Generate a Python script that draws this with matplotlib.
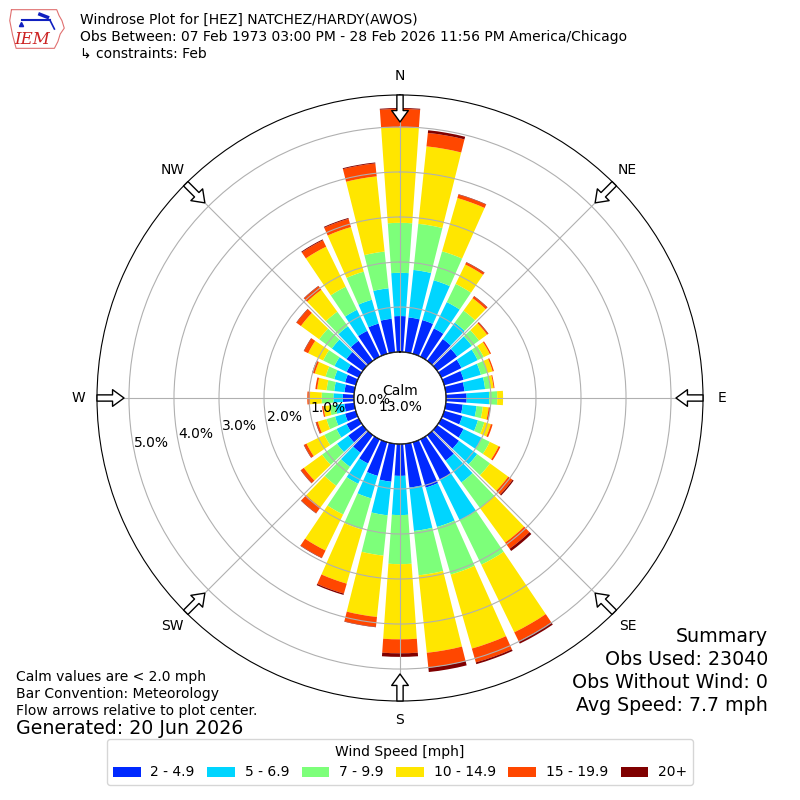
import numpy as np
import matplotlib
matplotlib.use("Agg")
import matplotlib.pyplot as plt

plt.rcParams['font.family'] = ['DejaVu Sans']

# direction bins (deg) and percent frequency per speed band
directions = np.arange(0, 360, 10)
b_2_5 = [0.80, 0.78, 0.78, 0.70, 0.60, 0.55, 0.50, 0.45, 0.42, 0.46, 0.38, 0.42,
         0.55, 0.60, 0.70, 1.00, 1.05, 0.98, 0.71, 0.85, 0.78, 0.60, 0.48, 0.40,
         0.30, 0.25, 0.22, 0.25, 0.22, 0.25, 0.30, 0.45, 0.55, 0.64, 0.70, 0.75]
b_5_7 = [0.96, 1.06, 0.92, 0.65, 0.45, 0.40, 0.40, 0.40, 0.46, 0.50, 0.31, 0.36,
         0.45, 0.50, 0.60, 1.00, 0.91, 0.97, 0.87, 0.75, 0.52, 0.50, 0.39, 0.31,
         0.25, 0.23, 0.20, 0.21, 0.23, 0.25, 0.30, 0.40, 0.40, 0.52, 0.55, 0.68]
b_7_10 = [1.11, 1.03, 0.67, 0.45, 0.33, 0.20, 0.15, 0.15, 0.12, 0.18, 0.14, 0.15,
          0.20, 0.35, 0.70, 1.10, 1.10, 0.99, 1.09, 0.90, 0.72, 0.76, 0.52, 0.41,
          0.30, 0.20, 0.13, 0.26, 0.17, 0.20, 0.28, 0.35, 0.40, 0.57, 0.65, 0.82]
b_10_15 = [2.12, 1.73, 1.23, 0.48, 0.34, 0.22, 0.15, 0.12, 0.07, 0.13, 0.13, 0.15,
           0.22, 0.50, 0.95, 1.67, 1.71, 1.73, 1.67, 1.37, 1.25, 0.89, 0.59, 0.50,
           0.44, 0.20, 0.14, 0.26, 0.21, 0.25, 0.37, 0.50, 0.60, 0.99, 1.03, 1.68]
b_15_20 = [0.41, 0.30, 0.08, 0.05, 0.05, 0.03, 0.03, 0.03, 0.02, 0.00, 0.03, 0.04,
           0.04, 0.12, 0.17, 0.22, 0.32, 0.33, 0.31, 0.22, 0.23, 0.18, 0.16, 0.08,
           0.06, 0.04, 0.03, 0.06, 0.04, 0.05, 0.10, 0.12, 0.10, 0.16, 0.19, 0.29]
b_20 = [0.02, 0.06, 0.01, 0.01, 0.01, 0.01, 0.00, 0.00, 0.00, 0.00, 0.01, 0.00,
        0.00, 0.03, 0.06, 0.06, 0.04, 0.10, 0.08, 0.01, 0.03, 0.01, 0.01, 0.01,
        0.01, 0.01, 0.00, 0.00, 0.00, 0.01, 0.01, 0.01, 0.01, 0.02, 0.02, 0.02]
bands = [b_2_5, b_5_7, b_7_10, b_10_15, b_15_20, b_20]
band_labels = ['2 - 4.9', '5 - 6.9', '7 - 9.9', '10 - 14.9', '15 - 19.9', '20+']
calm_pct = 13.0
rmax = 5.71

colors = [plt.cm.jet(i / 6.0) for i in range(1, 7)]

fig = plt.figure(figsize=(8, 8), dpi=100)
ax = fig.add_axes([97 / 800., 99 / 800., 606 / 800., 606 / 800.], projection='polar')
ax.set_theta_zero_location('N')
ax.set_theta_direction(-1)
ax.set_rorigin(-1.02)
ax.set_ylim(0, rmax)

theta = np.deg2rad(directions)
width = np.deg2rad(8)
bottom = np.zeros(len(directions))
handles = []
for vals, col, lab in zip(bands, colors, band_labels):
    vals = np.array(vals)
    h = ax.bar(theta, vals, width=width, bottom=bottom, color=col, linewidth=0,
               label=lab, zorder=2)
    handles.append(h)
    bottom = bottom + vals

# calm circle
tt = np.linspace(0, 2 * np.pi, 300)
ax.plot(tt, np.zeros_like(tt), color='k', lw=1, zorder=3)
ax.text(0.5, 0.498, 'Calm\n%.1f%%' % calm_pct, transform=ax.transAxes,
        ha='center', va='center', fontsize=10, zorder=4)

ax.set_axisbelow(False)
ax.grid(True, color='#b0b0b0', lw=0.8)
ax.set_rticks([0, 1, 2, 3, 4, 5])
ax.set_yticklabels(['0.0%', '1.0%', '2.0%', '3.0%', '4.0%', '5.0%'], fontsize=10)
ax.set_rlabel_position(259)
ax.set_thetagrids(np.arange(0, 360, 45), ['N', 'NE', 'E', 'SE', 'S', 'SW', 'W', 'NW'],
                  fontsize=10)
ax.tick_params(axis='x', pad=3)

# flow arrows pointing to center
for a in np.arange(0, 360, 45):
    ax.annotate('', xy=(np.deg2rad(a), rmax - 0.6), xytext=(np.deg2rad(a), rmax),
                arrowprops=dict(arrowstyle='simple,head_length=0.55,head_width=0.8,tail_width=0.3',
                                fc='white', ec='black', lw=1, mutation_scale=15,
                                shrinkA=0, shrinkB=0),
                annotation_clip=False, zorder=5)

# logo
lax = fig.add_axes([8 / 800., 1 - 50 / 800., 58 / 800., 42 / 800.])
lax.set_xlim(0, 1)
lax.set_ylim(0, 1)
lax.axis('off')
ox = [0.06, 0.84, 0.88, 0.93, 0.97, 0.90, 0.86, 0.80, 0.14, 0.08, 0.03, 0.06]
oy = [0.96, 0.96, 0.82, 0.70, 0.52, 0.38, 0.20, 0.04, 0.04, 0.35, 0.70, 0.96]
lax.plot(ox, oy, color='#e07070', lw=0.8)
lax.plot([0.25, 0.72], [0.72, 0.72], color='#1020c0', lw=1.5)
lax.plot([0.72, 0.80], [0.72, 0.50], color='#1020c0', lw=1.2)
lax.plot([0.55, 0.68], [0.85, 0.78], color='#1020c0', lw=2.5)
lax.plot([0.22], [0.62], marker='^', color='#1020c0', ms=3)
lax.text(0.42, 0.26, 'IEM', color='#cc2222', fontsize=12, family='DejaVu Serif',
         style='italic', ha='center', va='center')

# header
fig.text(80 / 800., 1 - 20 / 800., 'Windrose Plot for [HEZ] NATCHEZ/HARDY(AWOS)',
         fontsize=10, va='center')
fig.text(80 / 800., 1 - 37 / 800.,
         'Obs Between: 07 Feb 1973 03:00 PM - 28 Feb 2026 11:56 PM America/Chicago',
         fontsize=10, va='center')
fig.text(80 / 800., 1 - 54 / 800., '\u21b3 constraints: Feb', fontsize=10, va='center')

# footer notes
fig.text(16 / 800., 1 - 677 / 800., 'Calm values are < 2.0 mph', fontsize=10, va='center')
fig.text(16 / 800., 1 - 694 / 800., 'Bar Convention: Meteorology', fontsize=10, va='center')
fig.text(16 / 800., 1 - 711 / 800., 'Flow arrows relative to plot center.', fontsize=10,
         va='center')
fig.text(16 / 800., 1 - 729 / 800., 'Generated: 20 Jun 2026', fontsize=13.7, va='center')

summary = ['Summary', 'Obs Used: 23040', 'Obs Without Wind: 0', 'Avg Speed: 7.7 mph']
for i, s in enumerate(summary):
    fig.text(768 / 800., 1 - (636 + 23.3 * i) / 800., s, fontsize=13.7, ha='right',
             va='center')

fig.legend(handles=handles, labels=band_labels, loc='lower center',
           bbox_to_anchor=(0.5, 0.01), ncol=6, title='Wind Speed [mph]',
           fontsize=10, title_fontsize=10, columnspacing=0.9, handletextpad=0.7)

fig.savefig('out.png', dpi=100)
